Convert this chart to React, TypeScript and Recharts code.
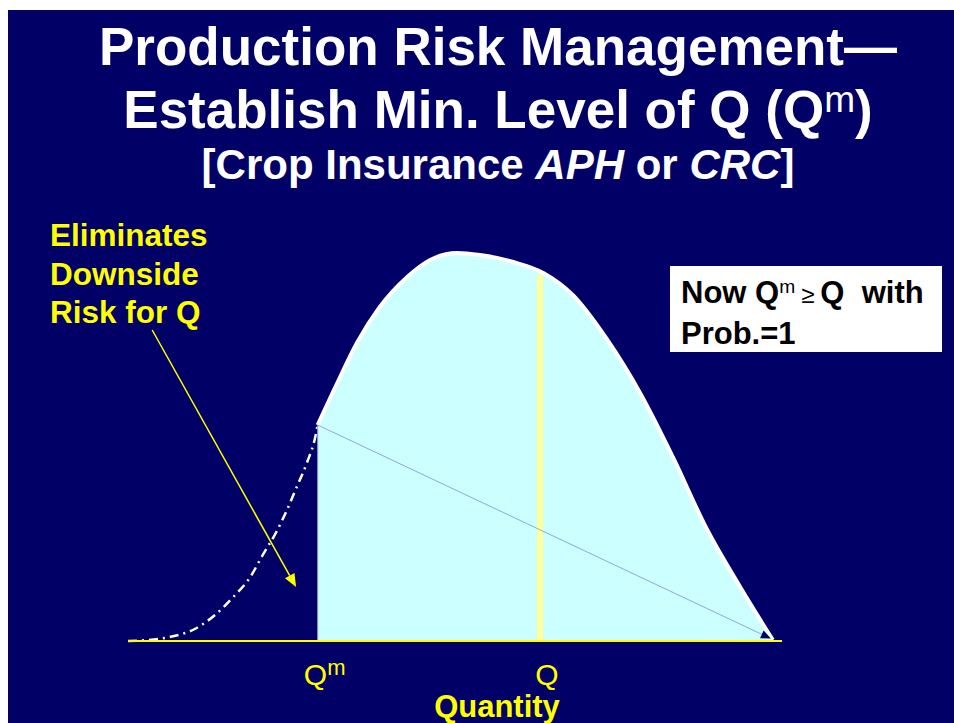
import { Area, ComposedChart, Line, ReferenceLine, XAxis, YAxis } from "recharts";

// density below the insured minimum (drawn dash-dot)
const tailQty = [0, 2.6, 6.4, 10.2, 13.3, 16.1, 18.7, 20.6, 22.6, 24.3, 25.8, 27.4, 28.6, 29];
const tailDensity = [0, 0.2, 1, 3, 6.5, 11, 16, 21.5, 27, 32.75, 38.5, 44.75, 50.75, 54];

// density from Qm upward (filled)
const insuredQty = [29, 32, 35, 38.5, 42.7, 46.2, 50.3, 53.8, 58.9, 63.5, 68, 73.2, 78.3, 83.3, 88.5, 93.6, 98.6];
const insuredDensity = [54, 64.5, 74.5, 83.5, 91, 95.25, 97, 96.5, 94.75, 92, 86.5, 75.5, 62, 46, 28, 13.5, 0.25];

const minQty = 29; // Qm
const expectedQty = 63; // Q
const expectedTop = 91.5;
const qTicks = [minQty, expectedQty];

// thin line from the Qm corner down to the end of the curve
const diagStart = { x: 29, y: 54 };
const diagEnd = { x: 98.3, y: 0.6 };

// "Eliminates downside risk" pointer
const pointerStart = { x: 3.7, y: 77.75 };
const pointerEnd = { x: 25.7, y: 13.5 };

const rows: Record<number, { qty: number; tail?: number; insured?: number }> = {};
tailQty.forEach((q, i) => {
  rows[q] = { ...(rows[q] || { qty: q }), tail: tailDensity[i] };
});
insuredQty.forEach((q, i) => {
  rows[q] = { ...(rows[q] || { qty: q }), insured: insuredDensity[i] };
});
const data = Object.values(rows).sort((a, b) => a.qty - b.qty);

const font = '"Liberation Sans", Arial, sans-serif';
const navy = "#000066";

function arrow(color: string, width: number, head: number) {
  return (p: any) => {
    const { x1, y1, x2, y2 } = p;
    const a = Math.atan2(y2 - y1, x2 - x1);
    const bx = x2 - head * Math.cos(a);
    const by = y2 - head * Math.sin(a);
    const hw = head * 0.42;
    const pts = `${x2},${y2} ${bx - hw * Math.sin(a)},${by + hw * Math.cos(a)} ${bx + hw * Math.sin(a)},${by - hw * Math.cos(a)}`;
    return (
      <g>
        <line x1={x1} y1={y1} x2={bx} y2={by} stroke={p.stroke} strokeWidth={width} />
        <polygon points={pts} fill={color} />
      </g>
    );
  };
}

function QTick(props: any) {
  const { x, y, payload } = props;
  return (
    <text x={x} y={y} dx={7} dy={36} textAnchor="middle" fill="#ffff00" fontSize={30} fontFamily={font}>
      Q
      {payload.value === minQty && (
        <tspan fontSize={22} dy={-10}>
          m
        </tspan>
      )}
    </text>
  );
}

const sup = (size: string, top: string): React.CSSProperties => ({
  fontSize: size,
  position: "relative",
  top,
  fontWeight: "normal",
});

const titleLine: React.CSSProperties = {
  position: "absolute",
  left: -10,
  width: 1000,
  textAlign: "center",
  color: "#fff",
  fontWeight: "bold",
};

export default function App() {
  return (
    <div
      style={{
        position: "absolute",
        left: 8,
        top: 10,
        width: 946,
        height: 713,
        background: navy,
        overflow: "hidden",
        fontFamily: font,
      }}
    >
      <div style={{ ...titleLine, top: 5, fontSize: 53, lineHeight: "64px" }}>Production Risk Management—</div>
      <div style={{ ...titleLine, top: 68, fontSize: 53, lineHeight: "64px" }}>
        Establish Min. Level of Q (Q<span style={sup("70%", "-0.44em")}>m</span>)
      </div>
      <div style={{ ...titleLine, top: 130, fontSize: 42, lineHeight: "50px" }}>
        [Crop Insurance <i>APH</i> or <i>CRC</i>]
      </div>

      <div style={{ position: "absolute", left: 42, top: 206, color: "#ffff00", fontWeight: "bold", fontSize: 31.5, lineHeight: "38.5px" }}>
        Eliminates
        <br />
        Downside
        <br />
        Risk for Q
      </div>

      <div
        style={{
          position: "absolute",
          left: 662,
          top: 256,
          width: 272,
          height: 86,
          boxSizing: "border-box",
          background: "#fff",
          color: "#000",
          padding: "8px 0 0 11px",
          fontWeight: "bold",
          fontSize: 31,
          lineHeight: "37px",
          whiteSpace: "nowrap",
        }}
      >
        Now Q<span style={sup("62%", "-0.5em")}>m</span>
        <span style={{ fontSize: 24, fontWeight: "normal", margin: "0 6px" }}>≥</span>Q&nbsp;&nbsp;with
        <br />
        Prob.=1
      </div>

      <div style={{ position: "absolute", left: 0, top: 0 }}>
        <ComposedChart width={946} height={713} data={data} margin={{ top: 231, right: 172, bottom: 2, left: 120 }}>
          <XAxis
            dataKey="qty"
            type="number"
            domain={[0, 100]}
            ticks={qTicks}
            height={80}
            axisLine={false}
            tickLine={false}
            tick={<QTick />}
            label={{
              value: "Quantity",
              position: "insideBottom",
              offset: 4,
              dx: 42,
              fill: "#ffff00",
              fontSize: 31,
              fontWeight: "bold",
              fontFamily: font,
            }}
          />
          <YAxis type="number" domain={[0, 100]} hide />
          <Area
            type="monotone"
            dataKey="insured"
            stroke="#ffffff"
            strokeWidth={4}
            fill="#ccffff"
            fillOpacity={1}
            isAnimationActive={false}
          />
          <Line
            type="monotone"
            dataKey="tail"
            stroke="#ffffff"
            strokeWidth={2.5}
            strokeDasharray="9 5 2 5"
            dot={false}
            activeDot={false}
            isAnimationActive={false}
          />
          <ReferenceLine segment={[{ x: minQty, y: 0 }, { x: minQty, y: 54 }]} stroke="#8899cc" strokeWidth={1} />
          <ReferenceLine segment={[{ x: expectedQty, y: 0 }, { x: expectedQty, y: expectedTop }]} stroke="#ffff99" strokeWidth={6} />
          <ReferenceLine segment={[diagStart, diagEnd]} stroke="#8fa8d8" shape={arrow(navy, 1, 10)} />
          <ReferenceLine y={0} stroke="#ffff00" strokeWidth={2} />
          <ReferenceLine segment={[pointerStart, pointerEnd]} stroke="#ffff00" shape={arrow("#ffff00", 1.5, 13)} />
        </ComposedChart>
      </div>
    </div>
  );
}
